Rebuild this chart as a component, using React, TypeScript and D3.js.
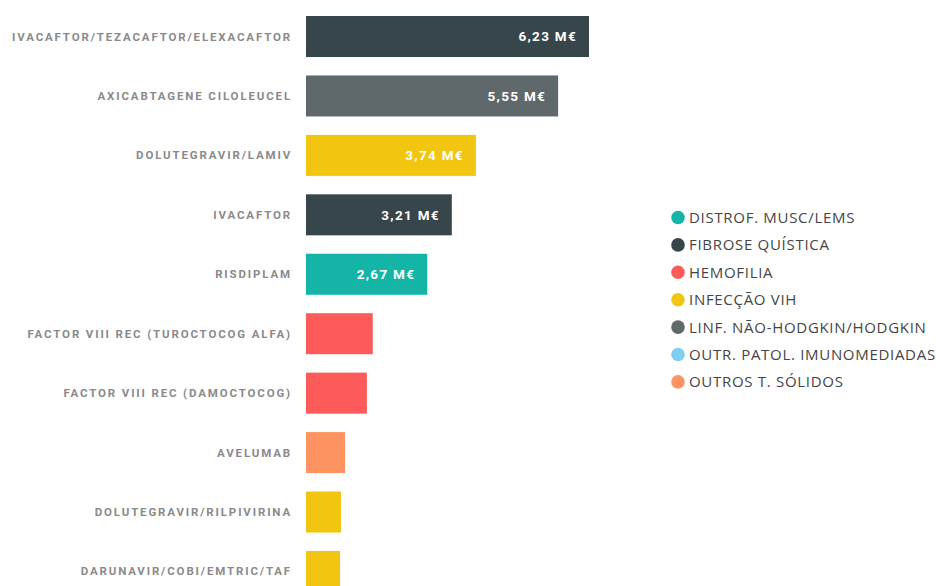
import React, { useEffect, useRef } from 'react';
import * as d3 from 'd3';

// drugs, cost in millions of euros, and therapeutic group
const drugs = [
  'IVACAFTOR/TEZACAFTOR/ELEXACAFTOR',
  'AXICABTAGENE CILOLEUCEL',
  'DOLUTEGRAVIR/LAMIV',
  'IVACAFTOR',
  'RISDIPLAM',
  'FACTOR VIII REC (TUROCTOCOG ALFA)',
  'FACTOR VIII REC (DAMOCTOCOG)',
  'AVELUMAB',
  'DOLUTEGRAVIR/RILPIVIRINA',
  'DARUNAVIR/COBI/EMTRIC/TAF',
];
const costs = [6.23, 5.55, 3.74, 3.21, 2.67, 1.47, 1.34, 0.86, 0.77, 0.75];
const drugGroups = [
  'FIBROSE QUÍSTICA',
  'LINF. NÃO-HODGKIN/HODGKIN',
  'INFECÇÃO VIH',
  'FIBROSE QUÍSTICA',
  'DISTROF. MUSC/LEMS',
  'HEMOFILIA',
  'HEMOFILIA',
  'OUTROS T. SÓLIDOS',
  'INFECÇÃO VIH',
  'INFECÇÃO VIH',
];

const legendGroups = [
  'DISTROF. MUSC/LEMS',
  'FIBROSE QUÍSTICA',
  'HEMOFILIA',
  'INFECÇÃO VIH',
  'LINF. NÃO-HODGKIN/HODGKIN',
  'OUTR. PATOL. IMUNOMEDIADAS',
  'OUTROS T. SÓLIDOS',
];
const groupColors = ['#14b5a6', '#37464a', '#fd5b5a', '#f2c511', '#5f686b', '#80cff0', '#fd9462'];

const App = () => {
  const ref = useRef<SVGSVGElement>(null);

  useEffect(() => {
    const w = 936;
    const h = 586;
    const svg = d3.select(ref.current);
    svg.selectAll('*').remove();

    const color = d3.scaleOrdinal<string, string>().domain(legendGroups).range(groupColors);

    // horizontal scale for bar lengths
    const x = d3.scaleLinear().domain([0, 6.23]).range([306, 589]);

    const y = d3.scaleBand<number>()
      .domain(d3.range(drugs.length))
      .range([16, 16 + 59.44 * (drugs.length - 0.31)])
      .paddingInner(0.31)
      .paddingOuter(0);

    const rows = svg.selectAll('g.row')
      .data(drugs)
      .enter()
      .append('g')
      .attr('class', 'row');

    rows.append('rect')
      .attr('x', x(0))
      .attr('y', (d, i) => y(i)!)
      .attr('width', (d, i) => x(costs[i]) - x(0))
      .attr('height', y.bandwidth())
      .attr('fill', (d, i) => color(drugGroups[i]));

    // drug names on the left
    rows.append('text')
      .attr('x', 292)
      .attr('y', (d, i) => y(i)! + y.bandwidth() / 2)
      .attr('dy', '0.35em')
      .attr('text-anchor', 'end')
      .attr('font-family', 'Roboto, sans-serif')
      .attr('font-size', 11.5)
      .attr('font-weight', 700)
      .attr('letter-spacing', 1.85)
      .attr('fill', '#8a8a8a')
      .text((d) => d);

    // values inside the larger bars
    rows.filter((d, i) => costs[i] >= 2)
      .append('text')
      .attr('x', (d) => x(costs[drugs.indexOf(d)]) - 12)
      .attr('y', (d) => y(drugs.indexOf(d))! + y.bandwidth() / 2)
      .attr('dy', '0.35em')
      .attr('text-anchor', 'end')
      .attr('font-family', 'Roboto, sans-serif')
      .attr('font-size', 13.5)
      .attr('font-weight', 700)
      .attr('letter-spacing', 1.3)
      .attr('fill', '#ffffff')
      .text((d) => d3.format('.2f')(costs[drugs.indexOf(d)]).replace('.', ',') + ' M€');

    // legend
    const legend = svg.selectAll('g.legend')
      .data(legendGroups)
      .enter()
      .append('g')
      .attr('class', 'legend')
      .attr('transform', (d, i) => `translate(678,${217.5 + i * 27.4})`);

    legend.append('circle')
      .attr('r', 6.8)
      .attr('fill', (d) => color(d));

    legend.append('text')
      .attr('x', 11)
      .attr('dy', '0.36em')
      .attr('font-family', '"Open Sans", sans-serif')
      .attr('font-size', 15)
      .attr('letter-spacing', 0.7)
      .attr('fill', '#454545')
      .text((d) => d);

    svg.attr('width', w).attr('height', h);
  }, []);

  return (
    <svg
      ref={ref}
      width={936}
      height={586}
      style={{ position: 'absolute', left: 0, top: 0, background: '#fff' }}
    />
  );
};

export default App;
